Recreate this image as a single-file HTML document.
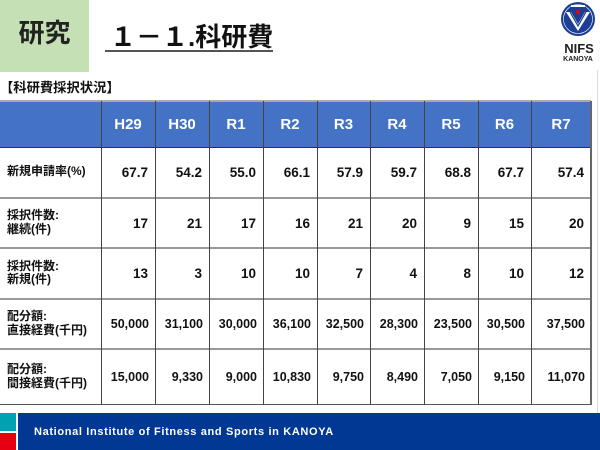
<!DOCTYPE html>
<html><head><meta charset="utf-8">
<style>
html,body{margin:0;padding:0;}
body{width:600px;height:450px;position:relative;overflow:hidden;background:#fff;font-family:"Liberation Sans","Noto Sans CJK JP",sans-serif;}
.a{position:absolute;}
.hd{position:absolute;top:101px;height:46px;background:#4472c4;color:#fff;font-weight:bold;font-size:15px;display:flex;align-items:center;justify-content:center;}
.v{position:absolute;font-weight:bold;font-size:13.5px;color:#111;display:flex;align-items:center;justify-content:flex-end;box-sizing:border-box;padding-right:7px;}
.lb{position:absolute;left:7px;font-weight:bold;font-size:12px;color:#111;line-height:13.5px;display:flex;align-items:center;}
.vl{position:absolute;width:1.5px;background:#444;}
.hl{position:absolute;left:0;width:591px;height:2px;background:#999;}
</style></head><body>
<div class="a" style="left:0;top:0;width:89px;height:72px;background:#c5e0b4;"></div>
<div class="a" style="left:0;top:17px;width:89px;text-align:center;font-size:26px;font-weight:bold;color:#222;line-height:32px;">研究</div>
<div class="a" style="left:110px;top:22px;font-size:26px;font-weight:bold;color:#111;line-height:30px;white-space:nowrap;">１－１.科研費</div>
<div class="a" style="left:105px;top:50px;width:168px;height:2px;background:#555;"></div>

<svg class="a" style="left:558px;top:0;" width="40" height="40" viewBox="0 0 40 40">
<circle cx="20" cy="19" r="17" fill="#1c3f95"/>
<circle cx="20" cy="19" r="14.5" fill="none" stroke="#fff" stroke-width="0.6"/>
<path d="M8 12 L20 31 L32 12 L27 12 L20 24 L13 12 Z" fill="#fff"/>
<path d="M12 12 L20 26 L28 12" fill="none" stroke="#1c3f95" stroke-width="1.2"/>
<circle cx="20" cy="12" r="2.2" fill="#e60012"/>
<rect x="13" y="5" width="14" height="2" fill="#fff"/>
</svg>
<div class="a" style="left:562px;top:42px;width:34px;text-align:center;font-size:13px;font-weight:bold;color:#222;line-height:14px;">NIFS</div>
<div class="a" style="left:560px;top:56px;width:36px;text-align:center;font-size:7px;font-weight:bold;color:#222;line-height:8px;">KANOYA</div>

<div class="a" style="left:0;top:80px;font-size:13.3px;font-weight:bold;color:#111;line-height:16px;white-space:nowrap;">【科研費採択状況】</div>

<!-- slide right edge -->
<div class="a" style="left:597px;top:70px;width:1px;height:343px;background:#ddd;"></div>

<!-- header -->
<div class="hd" style="left:0;width:101px;"></div>
<div class="hd" style="left:101px;width:54px;">H29</div>
<div class="hd" style="left:155px;width:54px;">H30</div>
<div class="hd" style="left:209px;width:54px;">R1</div>
<div class="hd" style="left:263px;width:54px;">R2</div>
<div class="hd" style="left:317px;width:53px;">R3</div>
<div class="hd" style="left:370px;width:54px;">R4</div>
<div class="hd" style="left:424px;width:54px;">R5</div>
<div class="hd" style="left:478px;width:53px;">R6</div>
<div class="hd" style="left:531px;width:60px;">R7</div>

<!-- horizontal lines -->
<div class="hl" style="top:100px;background:#aaa;"></div>
<div class="hl" style="top:146.5px;background:#333;height:1.5px;"></div>
<div class="hl" style="top:196.5px;"></div>
<div class="hl" style="top:247px;"></div>
<div class="hl" style="top:297.5px;"></div>
<div class="hl" style="top:348px;"></div>
<div class="hl" style="top:403.5px;background:#555;height:1.5px;"></div>

<!-- vertical lines -->
<div class="vl" style="left:100.5px;top:101px;height:304px;"></div>
<div class="vl" style="left:154.5px;top:101px;height:304px;"></div>
<div class="vl" style="left:208.5px;top:101px;height:304px;"></div>
<div class="vl" style="left:262.5px;top:101px;height:304px;"></div>
<div class="vl" style="left:316.5px;top:101px;height:304px;"></div>
<div class="vl" style="left:369.5px;top:101px;height:304px;"></div>
<div class="vl" style="left:423.5px;top:101px;height:304px;"></div>
<div class="vl" style="left:477.5px;top:101px;height:304px;"></div>
<div class="vl" style="left:530.5px;top:101px;height:304px;"></div>
<div class="vl" style="left:590px;top:101px;height:304px;background:#666;"></div>

<!-- labels -->
<div class="lb" style="top:147px;height:50px;">新規申請率(%)</div>
<div class="lb" style="top:197px;height:51px;">採択件数:<br>継続(件)</div>
<div class="lb" style="top:248px;height:50px;">採択件数:<br>新規(件)</div>
<div class="lb" style="top:298px;height:51px;">配分額:<br>直接経費(千円)</div>
<div class="lb" style="top:349px;height:55px;">配分額:<br>間接経費(千円)</div>

<!-- row 1 -->
<div class="v" style="top:147px;height:50px;left:101px;width:54px;">67.7</div>
<div class="v" style="top:147px;height:50px;left:155px;width:54px;">54.2</div>
<div class="v" style="top:147px;height:50px;left:209px;width:54px;">55.0</div>
<div class="v" style="top:147px;height:50px;left:263px;width:54px;">66.1</div>
<div class="v" style="top:147px;height:50px;left:317px;width:53px;">57.9</div>
<div class="v" style="top:147px;height:50px;left:370px;width:54px;">59.7</div>
<div class="v" style="top:147px;height:50px;left:424px;width:54px;">68.8</div>
<div class="v" style="top:147px;height:50px;left:478px;width:53px;">67.7</div>
<div class="v" style="top:147px;height:50px;left:531px;width:60px;">57.4</div>
<!-- row 2 -->
<div class="v" style="top:198px;height:50px;left:101px;width:54px;">17</div>
<div class="v" style="top:198px;height:50px;left:155px;width:54px;">21</div>
<div class="v" style="top:198px;height:50px;left:209px;width:54px;">17</div>
<div class="v" style="top:198px;height:50px;left:263px;width:54px;">16</div>
<div class="v" style="top:198px;height:50px;left:317px;width:53px;">21</div>
<div class="v" style="top:198px;height:50px;left:370px;width:54px;">20</div>
<div class="v" style="top:198px;height:50px;left:424px;width:54px;">9</div>
<div class="v" style="top:198px;height:50px;left:478px;width:53px;">15</div>
<div class="v" style="top:198px;height:50px;left:531px;width:60px;">20</div>
<!-- row 3 -->
<div class="v" style="top:248px;height:50px;left:101px;width:54px;">13</div>
<div class="v" style="top:248px;height:50px;left:155px;width:54px;">3</div>
<div class="v" style="top:248px;height:50px;left:209px;width:54px;">10</div>
<div class="v" style="top:248px;height:50px;left:263px;width:54px;">10</div>
<div class="v" style="top:248px;height:50px;left:317px;width:53px;">7</div>
<div class="v" style="top:248px;height:50px;left:370px;width:54px;">4</div>
<div class="v" style="top:248px;height:50px;left:424px;width:54px;">8</div>
<div class="v" style="top:248px;height:50px;left:478px;width:53px;">10</div>
<div class="v" style="top:248px;height:50px;left:531px;width:60px;">12</div>
<!-- row 4 -->
<div class="v" style="top:299px;height:50px;left:101px;width:54px;font-size:12.5px;padding-right:6px;">50,000</div>
<div class="v" style="top:299px;height:50px;left:155px;width:54px;font-size:12.5px;padding-right:6px;">31,100</div>
<div class="v" style="top:299px;height:50px;left:209px;width:54px;font-size:12.5px;padding-right:6px;">30,000</div>
<div class="v" style="top:299px;height:50px;left:263px;width:54px;font-size:12.5px;padding-right:6px;">36,100</div>
<div class="v" style="top:299px;height:50px;left:317px;width:53px;font-size:12.5px;padding-right:6px;">32,500</div>
<div class="v" style="top:299px;height:50px;left:370px;width:54px;font-size:12.5px;padding-right:6px;">28,300</div>
<div class="v" style="top:299px;height:50px;left:424px;width:54px;font-size:12.5px;padding-right:6px;">23,500</div>
<div class="v" style="top:299px;height:50px;left:478px;width:53px;font-size:12.5px;padding-right:6px;">30,500</div>
<div class="v" style="top:299px;height:50px;left:531px;width:60px;font-size:12.5px;padding-right:6px;">37,500</div>
<!-- row 5 -->
<div class="v" style="top:350px;height:54px;left:101px;width:54px;font-size:12.5px;padding-right:6px;">15,000</div>
<div class="v" style="top:350px;height:54px;left:155px;width:54px;font-size:12.5px;padding-right:6px;">9,330</div>
<div class="v" style="top:350px;height:54px;left:209px;width:54px;font-size:12.5px;padding-right:6px;">9,000</div>
<div class="v" style="top:350px;height:54px;left:263px;width:54px;font-size:12.5px;padding-right:6px;">10,830</div>
<div class="v" style="top:350px;height:54px;left:317px;width:53px;font-size:12.5px;padding-right:6px;">9,750</div>
<div class="v" style="top:350px;height:54px;left:370px;width:54px;font-size:12.5px;padding-right:6px;">8,490</div>
<div class="v" style="top:350px;height:54px;left:424px;width:54px;font-size:12.5px;padding-right:6px;">7,050</div>
<div class="v" style="top:350px;height:54px;left:478px;width:53px;font-size:12.5px;padding-right:6px;">9,150</div>
<div class="v" style="top:350px;height:54px;left:531px;width:60px;font-size:12.5px;padding-right:6px;">11,070</div>

<!-- footer -->
<div class="a" style="left:0;top:413px;width:16px;height:18px;background:#00a1b0;"></div>
<div class="a" style="left:0;top:433px;width:16px;height:17px;background:#e60012;"></div>
<div class="a" style="left:18px;top:413px;width:582px;height:37px;background:#003893;"></div>
<div class="a" style="left:34px;top:425px;font-size:11px;font-weight:bold;color:#fff;letter-spacing:0.65px;line-height:14px;white-space:nowrap;">National Institute of Fitness and Sports in KANOYA</div>
</body></html>
